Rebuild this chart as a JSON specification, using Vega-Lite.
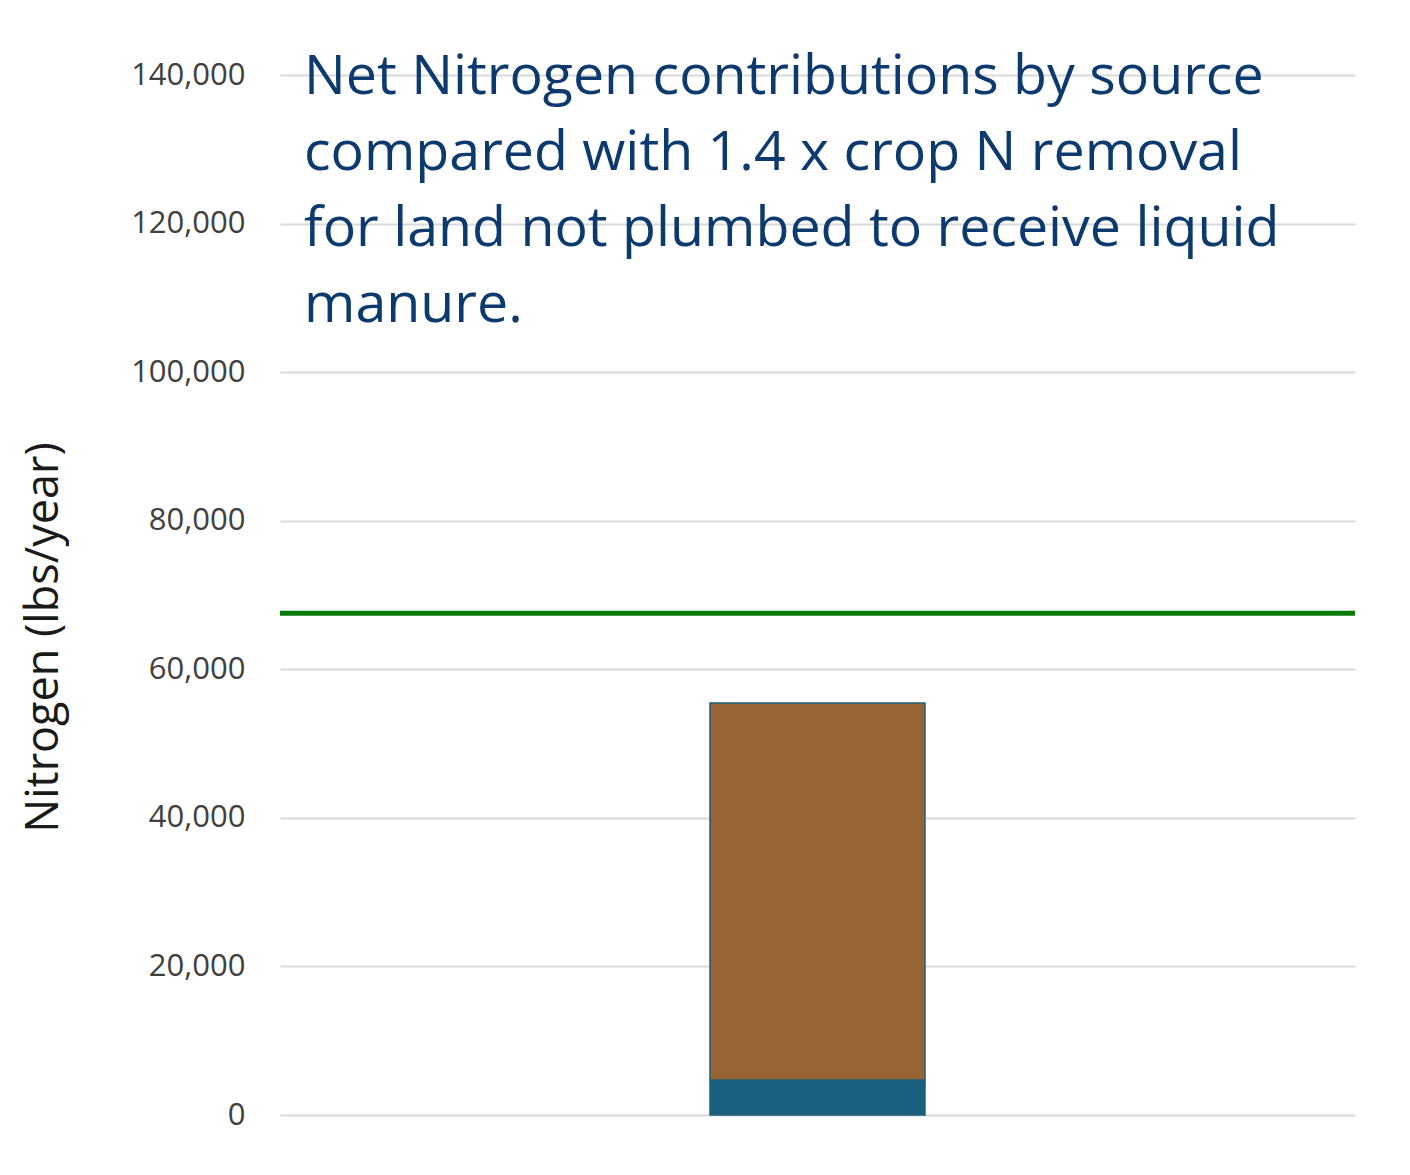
{
  "$schema": "https://vega.github.io/schema/vega-lite/v6.json",
  "width": 1075,
  "height": 1040,
  "autosize": {"type": "none"},
  "padding": {"left": 280, "top": 75, "right": 55, "bottom": 60},
  "background": "white",
  "config": {
    "view": {"stroke": null},
    "font": "Open Sans"
  },
  "title": {
    "text": ["Net Nitrogen contributions by source", "compared with 1.4 x crop N removal", "for land not plumbed to receive liquid", "manure."],
    "anchor": "start",
    "frame": "group",
    "orient": "top",
    "baseline": "top",
    "offset": 0,
    "dx": 24,
    "dy": 274,
    "fontSize": 55.5,
    "fontWeight": "normal",
    "lineHeight": 76,
    "color": "#0d3a6e",
    "font": "Open Sans"
  },
  "datasets": {
    "bars": [
      {"category": "Land not plumbed", "source": "Fertilizer", "nitrogen": 4710},
      {"category": "Land not plumbed", "source": "Manure", "nitrogen": 50740}
    ],
    "threshold": [
      {"label": "1.4 x crop N removal", "nitrogen": 67560}
    ]
  },
  "layer": [
    {
      "data": {"name": "bars"},
      "mark": {"type": "bar", "width": {"band": 0.2}, "stroke": "#1f5f7a", "strokeWidth": 1.5},
      "encoding": {
        "x": {"field": "category", "type": "nominal", "axis": null, "scale": {"paddingInner": 0, "paddingOuter": 0}},
        "y": {
          "field": "nitrogen", "type": "quantitative", "stack": "zero",
          "scale": {"domain": [0, 140000], "nice": false},
          "axis": {
            "title": "Nitrogen (lbs/year)",
            "values": [0, 20000, 40000, 60000, 80000, 100000, 120000, 140000],
            "format": ",.0f",
            "domain": false,
            "ticks": false,
            "grid": true,
            "gridColor": "#d9d9d9",
            "gridWidth": 2,
            "labelFontSize": 31,
            "labelColor": "#404040",
            "labelPadding": 35,
            "labelFont": "Open Sans",
            "titleFont": "Open Sans",
            "titleFontSize": 45,
            "titleFontWeight": "normal",
            "titleColor": "#1a1a1a",
            "titleX": -223,
            "titleY": 562,
            "titleAngle": -90,
            "titleAlign": "center",
            "titleBaseline": "alphabetic"
          }
        },
        "color": {
          "field": "source", "type": "nominal",
          "scale": {"domain": ["Fertilizer", "Manure"], "range": ["#185f80", "#976535"]},
          "legend": null
        },
        "order": {"field": "source", "sort": "ascending"}
      }
    },
    {
      "data": {"name": "threshold"},
      "mark": {"type": "rule", "color": "#0a7a0a", "strokeWidth": 5},
      "encoding": {
        "y": {"field": "nitrogen", "type": "quantitative"}
      }
    }
  ]
}
